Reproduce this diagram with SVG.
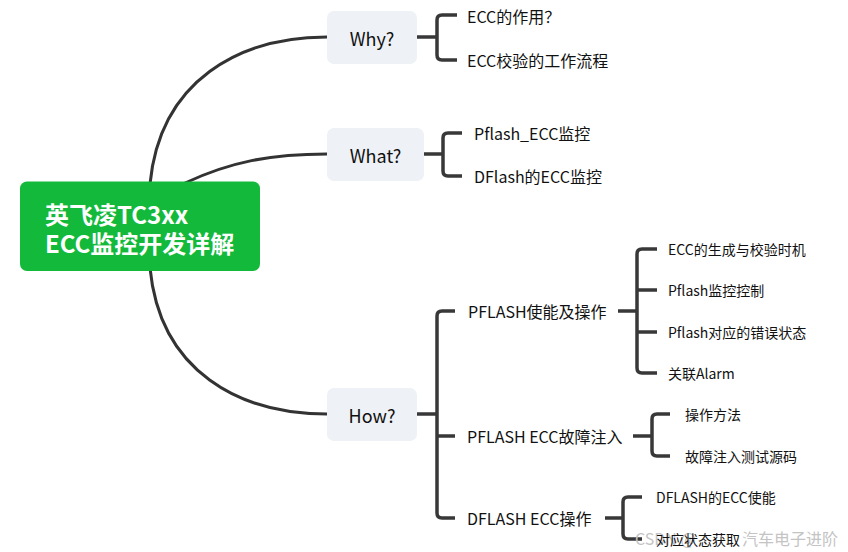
<svg xmlns="http://www.w3.org/2000/svg" width="848" height="552" viewBox="0 0 848 552">
<style>
text{font-family:"Microsoft YaHei","Noto Sans CJK SC","Noto Sans",sans-serif;fill:#111;dominant-baseline:central}
.l1{font-size:18px;text-anchor:middle}
.l2{font-size:16px}
.l3{font-size:14px}
.box{fill:#EEF1F5}
.curve{fill:none;stroke:#333;stroke-width:3;stroke-linecap:round}
.br{fill:none;stroke:#383838;stroke-width:3.5}
.wm{font-size:16px;fill:#c4c4c4}
</style>
<rect width="848" height="552" fill="#fff"/>
<g id="connectors">
<path class="curve" d="M150,184 C160,80 240,37 327,37"/>
<path class="curve" d="M185,183 C230,162 270,154 327,154"/>
<path class="curve" d="M150,268 C160,372 240,414 327,414"/>
<path class="br" d="M417,37 H437 M457,15 H442 Q437,15 437,20 V55 Q437,60 442,60 H457"/>
<path class="br" d="M424,154 H443 M462,133 H448 Q443,133 443,138 V171 Q443,176 448,176 H462"/>
<path class="br" d="M417,414 H437 M455,311 H442 Q437,311 437,316 V513 Q437,518 442,518 H455 M437,436 H455"/>
<path class="br" d="M618,311 H637 M657,249 H642 Q637,249 637,254 V368 Q637,373 642,373 H657 M637,290 H657 M637,332 H657"/>
<path class="br" d="M633,436 H652 M670,414 H657 Q652,414 652,419 V451 Q652,456 657,456 H670"/>
<path class="br" d="M605,518 H623 M642,497 H628 Q623,497 623,502 V534 Q623,539 628,539 H642"/>
</g>
<g id="root">
<rect x="20" y="181.5" width="240" height="89.5" rx="7" fill="#13B93A"/>
<text x="45" y="213" style="font-size:24px;font-weight:bold;fill:#fff">英飞凌TC3xx</text>
<text x="45" y="242" style="font-size:24px;font-weight:bold;fill:#fff">ECC监控开发详解</text>
</g>
<g id="why">
<rect class="box" x="327" y="11" width="90" height="53" rx="7"/>
<text class="l1" x="372" y="37.5">Why?</text>
</g>
<g id="why-1"><text class="l2" x="467" y="16">ECC的作用？</text></g>
<g id="why-2"><text class="l2" x="467" y="60">ECC校验的工作流程</text></g>
<g id="what">
<rect class="box" x="327" y="128" width="97" height="53" rx="7"/>
<text class="l1" x="375.5" y="154.5">What?</text>
</g>
<g id="what-1"><text class="l2" x="474" y="133">Pflash_ECC监控</text></g>
<g id="what-2"><text class="l2" x="474" y="176">DFlash的ECC监控</text></g>
<g id="how">
<rect class="box" x="327" y="388" width="90" height="53" rx="7"/>
<text class="l1" x="372" y="414.5">How?</text>
</g>
<g id="how-1"><text class="l2" x="468" y="311">PFLASH使能及操作</text></g>
<g id="how-1-1"><text class="l3" x="668" y="249">ECC的生成与校验时机</text></g>
<g id="how-1-2"><text class="l3" x="668" y="290">Pflash监控控制</text></g>
<g id="how-1-3"><text class="l3" x="668" y="332">Pflash对应的错误状态</text></g>
<g id="how-1-4"><text class="l3" x="668" y="373">关联Alarm</text></g>
<g id="how-2"><text class="l2" x="467" y="436">PFLASH ECC故障注入</text></g>
<g id="how-2-1"><text class="l3" x="685" y="414">操作方法</text></g>
<g id="how-2-2"><text class="l3" x="685" y="456">故障注入测试源码</text></g>
<g id="how-3"><text class="l2" x="467" y="518">DFLASH ECC操作</text></g>
<g id="how-3-1"><text class="l3" x="656" y="497">DFLASH的ECC使能</text></g>
<text class="wm" x="635" y="538">CSDN @</text>
<text class="wm" x="742" y="538">汽车电子进阶</text>
<g id="how-3-2"><text class="l3" x="656" y="539">对应状态获取</text></g>
</svg>
